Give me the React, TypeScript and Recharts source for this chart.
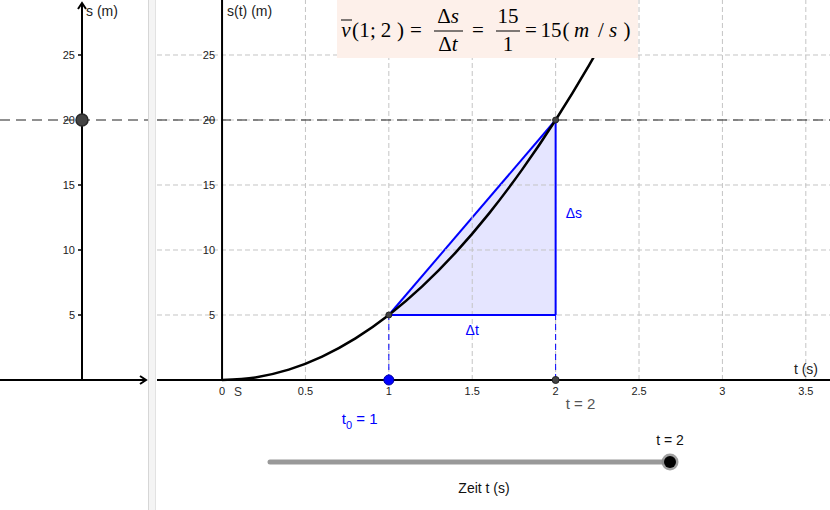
import React from 'react';
import { ComposedChart, Line, Area, XAxis, YAxis, ReferenceLine, ReferenceDot } from 'recharts';

// position s(t) (t in s, s in m)
const curveT = [0, 0.2, 0.4, 0.6, 0.8, 1, 1.2, 1.4, 1.6, 1.8, 2, 2.2, 2.4];
const curveS = [0, 0.2, 0.8, 1.8, 3.2, 5, 7.2, 9.8, 12.8, 16.2, 20, 24.2, 28.8];

// the two points of the secant
const startT = 1;
const startS = 5;
const endT = 2;
const endS = 20;

const tTicks = [0, 0.5, 1, 1.5, 2, 2.5, 3, 3.5];
const tTickLabels = ['0', '0.5', '1', '1.5', '2', '2.5', '3', '3.5'];
const sTicks = [5, 10, 15, 20, 25];

// visible window of both graphics views
const tRange: [number, number] = [-0.39, 3.645];
const sRange: [number, number] = [-10, 29.23];
const leftRange: [number, number] = [-82, 66];

const FONT = '"Liberation Sans", Arial, sans-serif';
const MATH = '"Liberation Serif", "Times New Roman", serif';
const BLUE = '#0000ff';
const GRID = '#c4c4c4';

const curve = curveT.map((t, i) => ({ t, s: curveS[i] }));
const secant = [
  { t: startT, s: startS },
  { t: endT, s: endS },
];

const tag =
  (text: React.ReactNode, dx: number, dy: number, fill = '#222', size = 11, anchor: 'start' | 'middle' | 'end' = 'middle') =>
  (props: any) => {
    const vb = props.viewBox;
    const cx = vb.x + vb.width / 2;
    const cy = vb.y + vb.height / 2;
    return (
      <text x={cx + dx} y={cy + dy} fill={fill} fontSize={size} textAnchor={anchor} fontFamily={FONT}>
        {text}
      </text>
    );
  };

const arrow = (dir: 'up' | 'right') => (p: any) => {
  const x1 = +p.x1, y1 = +p.y1, x2 = +p.x2, y2 = +p.y2;
  const head = dir === 'up' ? `M${x2 - 4},${y2 + 6}L${x2},${y2}L${x2 + 4},${y2 + 6}` : `M${x2 - 6},${y2 - 4}L${x2},${y2}L${x2 - 6},${y2 + 4}`;
  return (
    <g>
      <line x1={x1} y1={y1} x2={x2} y2={y2} stroke="#000" strokeWidth={2} />
      <path d={head} stroke="#000" strokeWidth={2} fill="none" />
    </g>
  );
};

const tickMark = (p: any) => <line x1={p.cx - 4} y1={p.cy} x2={p.cx} y2={p.cy} stroke="#000" strokeWidth={1.5} />;

const LeftView = () => (
  <ComposedChart width={148} height={510} margin={{ top: 0, right: 0, bottom: 0, left: 0 }}>
    <XAxis type="number" dataKey="x" domain={leftRange} hide allowDataOverflow />
    <YAxis type="number" domain={sRange} hide allowDataOverflow />
    <ReferenceLine y={endS} stroke="#222" strokeWidth={1.2} strokeDasharray="10 6" />
    <ReferenceLine segment={[{ x: 0, y: 0 }, { x: 0, y: 29 }]} shape={arrow('up')} />
    <ReferenceLine segment={[{ x: leftRange[0], y: 0 }, { x: 64, y: 0 }]} shape={arrow('right')} />
    {sTicks.map((s) => (
      <ReferenceDot key={s} x={0} y={s} r={0} shape={tickMark} ifOverflow="visible" label={tag(String(s), -7, 4, '#222', 11, 'end')} />
    ))}
    <ReferenceDot x={0} y={29} r={0} fill="none" stroke="none" label={tag('s (m)', 4, 13, '#222', 14, 'start')} />
    <ReferenceDot x={0} y={endS} r={6} fill="#444" stroke="#2a2a2a" strokeWidth={1.5} ifOverflow="visible" />
  </ComposedChart>
);

const RightView = () => (
  <ComposedChart width={673} height={510} margin={{ top: 0, right: 0, bottom: 0, left: 0 }}>
    <XAxis type="number" dataKey="t" domain={tRange} hide allowDataOverflow />
    <YAxis type="number" domain={sRange} hide allowDataOverflow />
    {sTicks.map((s) => (
      <ReferenceLine key={'h' + s} y={s} stroke={GRID} strokeDasharray="5 3" />
    ))}
    {tTicks.slice(1).map((t) => (
      <ReferenceLine key={'v' + t} segment={[{ x: t, y: 0 }, { x: t, y: sRange[1] }]} stroke={GRID} strokeDasharray="5 3" />
    ))}
    <ReferenceLine y={endS} stroke="#222" strokeWidth={1.2} strokeDasharray="10 6" />
    <ReferenceLine y={0} stroke="#000" strokeWidth={2} />
    <ReferenceLine segment={[{ x: 0, y: 0 }, { x: 0, y: sRange[1] }]} stroke="#000" strokeWidth={2} />

    <Area data={secant} dataKey="s" type="linear" baseValue={startS} stroke={BLUE} strokeWidth={2} fill={BLUE} fillOpacity={0.1} isAnimationActive={false} />
    <ReferenceLine segment={[{ x: startT, y: startS }, { x: endT, y: startS }]} stroke={BLUE} strokeWidth={2} />
    <ReferenceLine segment={[{ x: endT, y: startS }, { x: endT, y: endS }]} stroke={BLUE} strokeWidth={2} />
    <ReferenceLine segment={[{ x: startT, y: 0 }, { x: startT, y: startS }]} stroke={BLUE} strokeDasharray="6 4" />
    <ReferenceLine segment={[{ x: endT, y: 0 }, { x: endT, y: startS }]} stroke={BLUE} strokeDasharray="6 4" />

    <Line data={curve} dataKey="s" type="monotone" stroke="#000" strokeWidth={2.5} dot={false} isAnimationActive={false} />

    {tTicks.map((t, i) => (
      <ReferenceDot key={'tl' + t} x={t} y={0} r={0} fill="none" stroke="none" ifOverflow="visible" label={tag(tTickLabels[i], 0, 15)} />
    ))}
    {sTicks.map((s) => (
      <ReferenceDot key={'sl' + s} x={0} y={s} r={0} fill="none" stroke="none" ifOverflow="visible" label={tag(String(s), -7, 4, '#222', 11, 'end')} />
    ))}
    <ReferenceDot x={0} y={0} r={0} fill="none" stroke="none" ifOverflow="visible" label={tag('S', 16, 16, '#333', 12)} />
    <ReferenceDot x={0} y={sRange[1]} r={0} fill="none" stroke="none" ifOverflow="visible" label={tag('s(t) (m)', 5, 16, '#222', 14, 'start')} />
    <ReferenceDot x={tRange[1]} y={0} r={0} fill="none" stroke="none" ifOverflow="visible" label={tag('t (s)', -12, -6, '#222', 14, 'end')} />
    <ReferenceDot x={endT} y={(startS + endS) / 2} r={0} fill="none" stroke="none" ifOverflow="visible" label={tag('Δs', 10, 1, BLUE, 14, 'start')} />
    <ReferenceDot x={(startT + endT) / 2} y={startS} r={0} fill="none" stroke="none" ifOverflow="visible" label={tag('Δt', 0, 20, BLUE, 14)} />

    <ReferenceDot x={startT} y={startS} r={3} fill="#444" stroke="#222" ifOverflow="visible" />
    <ReferenceDot x={endT} y={endS} r={3} fill="#444" stroke="#222" ifOverflow="visible" />
    <ReferenceDot x={endT} y={0} r={3.5} fill="#444" stroke="#222" ifOverflow="visible" label={tag('t = 2', 10, 29, '#555', 15, 'start')} />
    <ReferenceDot
      x={startT}
      y={0}
      r={5}
      fill={BLUE}
      stroke="#0000a0"
      ifOverflow="visible"
      label={tag(
        <>
          t<tspan fontSize={11} dy={5}>0</tspan>
          <tspan dy={-5}> = 1</tspan>
        </>,
        -47,
        44,
        BLUE,
        15,
        'start'
      )}
    />
  </ComposedChart>
);

// glyph centres measured on the formula box
const Glyph = ({ x, y = 37, it = false, children }: { x: number; y?: number; it?: boolean; children: React.ReactNode }) => (
  <text x={x} y={y} textAnchor="middle" fontStyle={it ? 'italic' : 'normal'}>
    {children}
  </text>
);

const Formula = () => (
  <g fontFamily={MATH} fontSize={21} fill="#000">
    <rect x={337} y={0} width={301} height={58} fill="#fdf0ea" />
    <Glyph x={346} it>v</Glyph>
    <line x1={341} x2={352} y1={20} y2={20} stroke="#000" strokeWidth={1} />
    <Glyph x={355.5}>(</Glyph>
    <Glyph x={364.5}>1</Glyph>
    <Glyph x={373}>;</Glyph>
    <Glyph x={386}>2</Glyph>
    <Glyph x={400.5}>)</Glyph>
    <Glyph x={416}>=</Glyph>
    <text x={448} y={23} textAnchor="middle">Δ<tspan fontStyle="italic">s</tspan></text>
    <line x1={434} x2={463} y1={31} y2={31} stroke="#000" strokeWidth={1} />
    <text x={448} y={51} textAnchor="middle">Δ<tspan fontStyle="italic">t</tspan></text>
    <Glyph x={478}>=</Glyph>
    <Glyph x={508} y={23}>15</Glyph>
    <line x1={496} x2={520} y1={31} y2={31} stroke="#000" strokeWidth={1} />
    <Glyph x={508} y={51}>1</Glyph>
    <Glyph x={531}>=</Glyph>
    <Glyph x={551}>15</Glyph>
    <Glyph x={566}>(</Glyph>
    <Glyph x={581.5} it>m</Glyph>
    <Glyph x={601}>/</Glyph>
    <Glyph x={613} it>s</Glyph>
    <Glyph x={627}>)</Glyph>
  </g>
);

const Slider = () => (
  <g fontFamily={FONT}>
    <line x1={270} y1={462} x2={670} y2={462} stroke="#999" strokeWidth={5} strokeLinecap="round" />
    <circle cx={670} cy={462} r={8.5} fill="#888" opacity={0.8} />
    <circle cx={670} cy={462} r={6} fill="#000" />
    <text x={670} y={445} textAnchor="middle" fontSize={14} fill="#111">t = 2</text>
    <text x={484} y={493} textAnchor="middle" fontSize={14} fill="#111">Zeit t (s)</text>
  </g>
);

export default function App() {
  return (
    <div style={{ position: 'relative', width: 830, height: 510, background: '#fff', overflow: 'hidden' }}>
      <style>{'body{margin:0}'}</style>
      <div style={{ position: 'absolute', left: 0, top: 0 }}>
        <LeftView />
      </div>
      <div
        style={{
          position: 'absolute',
          left: 148,
          top: 0,
          width: 6,
          height: 510,
          background: '#f4f4f4',
          borderLeft: '1px solid #d6d6d6',
          borderRight: '1px solid #e2e2e2',
        }}
      />
      <div style={{ position: 'absolute', left: 157, top: 0 }}>
        <RightView />
      </div>
      <svg width={830} height={510} style={{ position: 'absolute', left: 0, top: 0, pointerEvents: 'none' }}>
        <Formula />
        <Slider />
      </svg>
    </div>
  );
}
